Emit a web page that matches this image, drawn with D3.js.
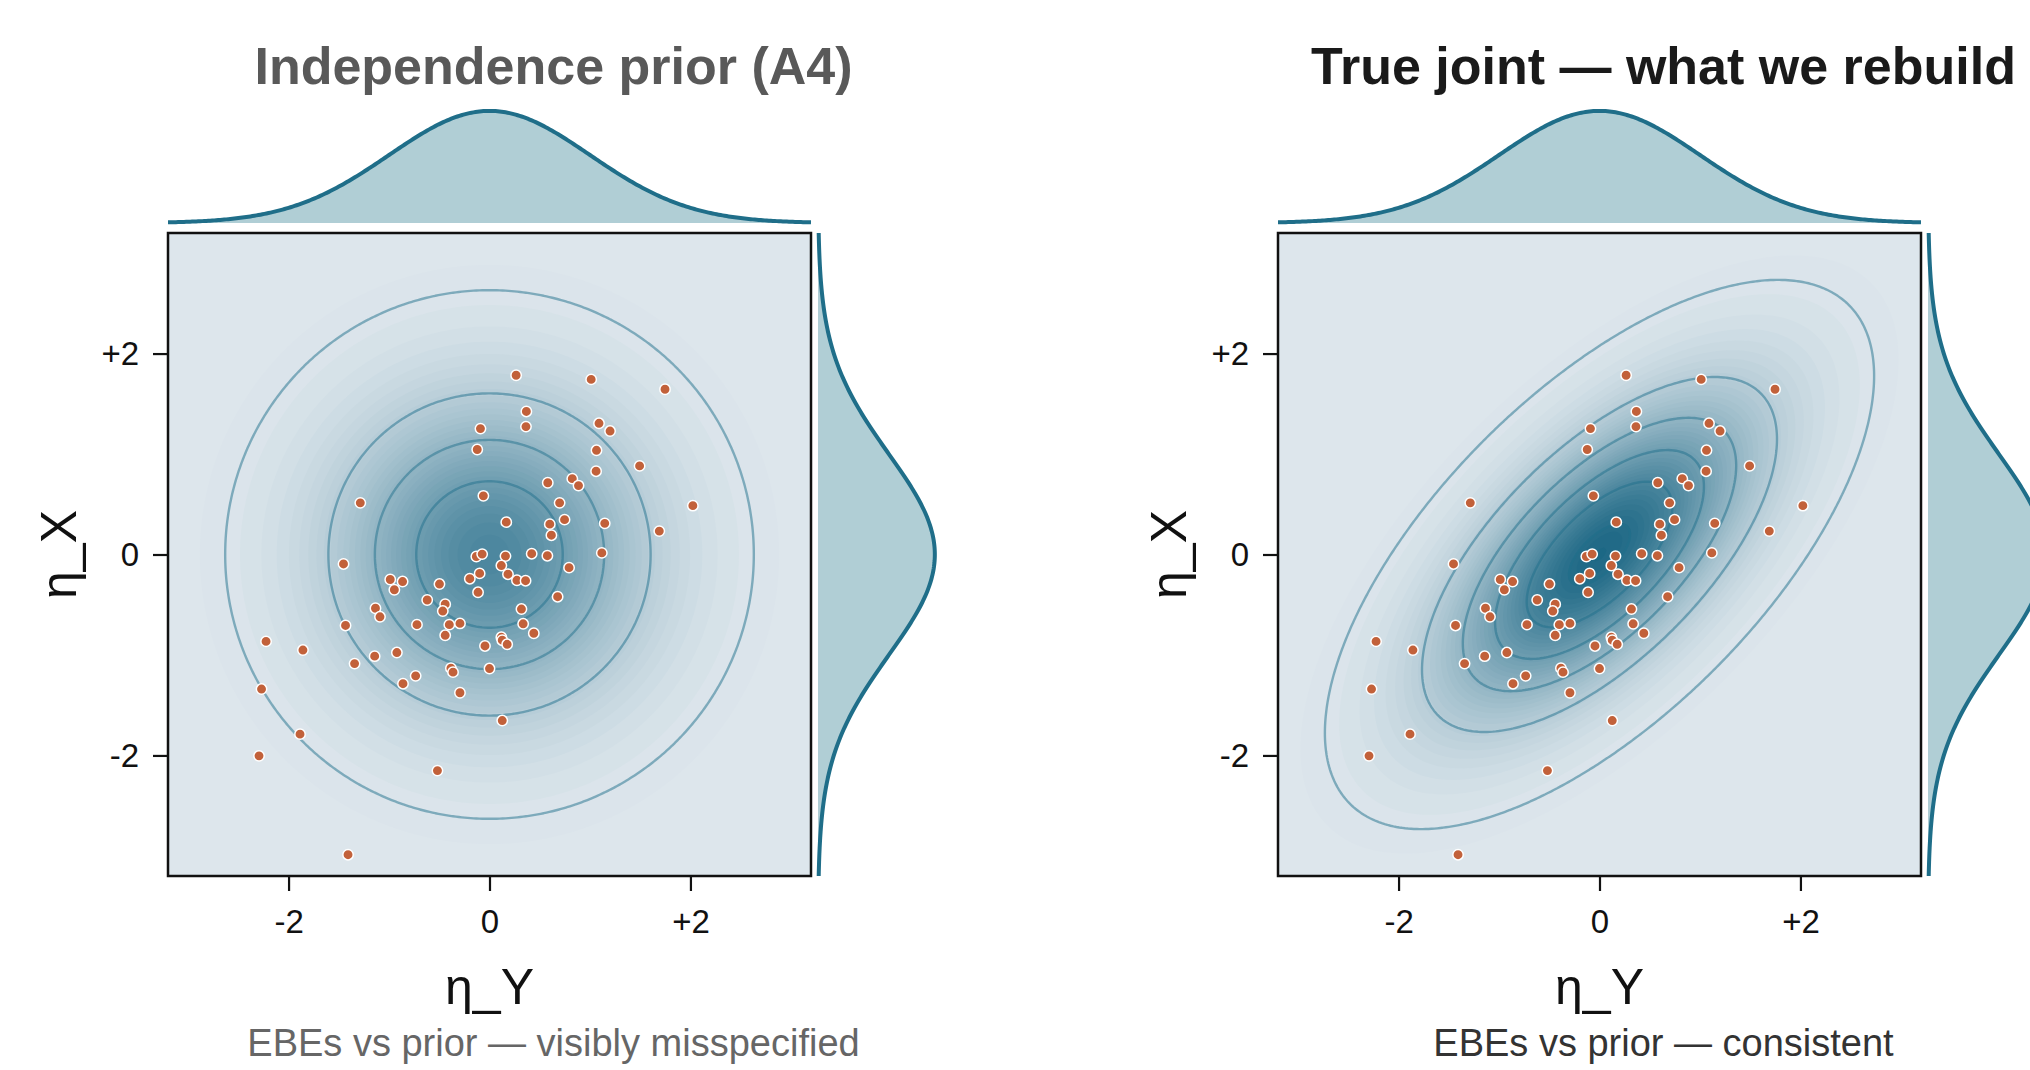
<!DOCTYPE html>
<html>
<head>
<meta charset="utf-8">
<script src="https://cdn.jsdelivr.net/npm/d3@7"></script>
<style>
  html, body { margin: 0; padding: 0; background: #fff; }
  svg { display: block; font-family: "Liberation Sans", Arial, Helvetica, sans-serif; }
</style>
</head>
<body>
<svg id="chart" width="2030" height="1070"></svg>
<script>
// EBEs: eta_Y (horizontal) and eta_X (vertical)
var etaY = [0.265, 1.012, 1.747, 0.367, 0.363, -0.090, 1.090, 1.200, -0.122, 1.065,
  1.494, 1.061, 0.580, 0.824, 0.886, -0.061, -1.286, 0.698, 2.024, 0.747,
  0.167, 0.600, 1.147, 1.690, 0.616, -0.131, -0.073, 0.159, 0.420, 0.576,
  1.118, -1.453, 0.118, 0.184, -0.098, -0.196, 0.273, 0.359, 0.792, -0.988,
  -0.865, -0.947, -0.498, -0.114, 0.678, -0.620, -0.441, -0.465, -1.135, -1.090,
  0.318, -1.433, -0.722, -0.400, -0.294, 0.335, 0.441, -0.441, -2.224, -1.857,
  0.118, 0.127, 0.176, -0.045, -0.922, -1.143, -1.343, -0.384, -0.363, 0.000,
  -0.735, -0.861, -0.294, -2.269, 0.127, -1.886, -2.294, -0.518, -1.408];
var etaX = [1.784, 1.743, 1.645, 1.424, 1.273, 1.253, 1.306, 1.229, 1.045, 1.037,
  0.882, 0.829, 0.714, 0.755, 0.686, 0.584, 0.514, 0.514, 0.486, 0.347,
  0.322, 0.302, 0.310, 0.233, 0.192, -0.020, 0.004, -0.016, 0.008, -0.012,
  0.016, -0.094, -0.110, -0.196, -0.188, -0.241, -0.257, -0.261, -0.131, -0.249,
  -0.269, -0.351, -0.294, -0.376, -0.420, -0.453, -0.494, -0.563, -0.535, -0.620,
  -0.543, -0.706, -0.698, -0.698, -0.686, -0.690, -0.784, -0.804, -0.865, -0.951,
  -0.824, -0.853, -0.894, -0.910, -0.976, -1.012, -1.086, -1.131, -1.171, -1.135,
  -1.208, -1.286, -1.376, -1.339, -1.653, -1.788, -2.004, -2.151, -2.988];

var panelTitles = ["Independence prior (A4)", "True joint \u2014 what we rebuild"];
var panelNotes = ["EBEs vs prior \u2014 visibly misspecified", "EBEs vs prior \u2014 consistent"];
var titleColors = ["#595959", "#1a1a1a"];
var noteColors = ["#666666", "#333333"];
var panelRho = [0, 0.65];          // correlation of the drawn prior
var marginalSd = [1, 1];
var contourLevels = [0.005, 0.044, 0.083, 0.122, 0.161, 0.200];
var tickValues = [-2, 0, 2];
var tickLabels = ["-2", "0", "+2"];

var svg = d3.select('#chart');
var size = 643, frameTop = 233, lim = 3.2, n = 220;
var panelLeft = [168, 1278];

var shade = d3.scaleLinear().domain([0, 0.218]).range(["#dde6ec", "#146280"]).clamp(true);
var fillLevels = d3.range(0.0025, 0.23, 0.0048);

function bvn(x, y, rho) {
  var q = 1 - rho * rho;
  return Math.exp(-(x * x - 2 * rho * x * y + y * y) / (2 * q)) / (2 * Math.PI * Math.sqrt(q));
}
function npdf(v, sd) {
  return Math.exp(-v * v / (2 * sd * sd)) / (sd * Math.sqrt(2 * Math.PI));
}

panelLeft.forEach(function (x0, k) {
  var x = d3.scaleLinear().domain([-lim, lim]).range([x0, x0 + size]);
  var y = d3.scaleLinear().domain([-lim, lim]).range([frameTop + size, frameTop]);

  var g = svg.append('g');
  g.append('clipPath').attr('id', 'clip' + k).append('rect')
    .attr('x', x0).attr('y', frameTop).attr('width', size).attr('height', size);

  var plot = g.append('g').attr('clip-path', 'url(#clip' + k + ')');
  plot.append('rect').attr('x', x0).attr('y', frameTop).attr('width', size).attr('height', size)
    .attr('fill', '#dde6ec');

  // density grid for the prior
  var vals = new Array(n * n);
  for (var j = 0; j < n; j++) {
    for (var i = 0; i < n; i++) {
      var gx = -lim + (i + 0.5) * 2 * lim / n;
      var gy = lim - (j + 0.5) * 2 * lim / n;
      vals[j * n + i] = bvn(gx, gy, panelRho[k]);
    }
  }
  var path = d3.geoPath(d3.geoIdentity().scale(size / n).translate([x0, frameTop]));

  plot.append('g').selectAll('path')
    .data(d3.contours().size([n, n]).thresholds(fillLevels)(vals))
    .enter().append('path')
    .attr('d', path)
    .attr('fill', function (d) { return shade(d.value); });

  plot.append('g').selectAll('path')
    .data(d3.contours().size([n, n]).thresholds(contourLevels)(vals))
    .enter().append('path')
    .attr('d', path)
    .attr('fill', 'none')
    .attr('stroke', '#1f6f8b')
    .attr('stroke-opacity', 0.5)
    .attr('stroke-width', 2.4);

  plot.append('g').selectAll('circle')
    .data(etaY.map(function (v, i) { return [v, etaX[i]]; }))
    .enter().append('circle')
    .attr('cx', function (d) { return x(d[0]); })
    .attr('cy', function (d) { return y(d[1]); })
    .attr('r', 5.2)
    .attr('fill', '#c2613a')
    .attr('stroke', '#ffffff')
    .attr('stroke-width', 1.5);

  g.append('rect').attr('x', x0).attr('y', frameTop).attr('width', size).attr('height', size)
    .attr('fill', 'none').attr('stroke', '#111').attr('stroke-width', 2.5);

  // axes
  var fmt = function (d) { return tickLabels[tickValues.indexOf(d)]; };
  var ax = g.append('g').attr('transform', 'translate(0,' + (frameTop + size) + ')')
    .call(d3.axisBottom(x).tickValues(tickValues).tickFormat(fmt).tickSize(15).tickPadding(19));
  var ay = g.append('g').attr('transform', 'translate(' + x0 + ',0)')
    .call(d3.axisLeft(y).tickValues(tickValues).tickFormat(fmt).tickSize(15).tickPadding(14));
  [ax, ay].forEach(function (a) {
    a.select('.domain').remove();
    a.selectAll('line').attr('stroke', '#111').attr('stroke-width', 2.2);
    a.selectAll('text').attr('font-size', 33).attr('fill', '#111').attr('font-family', null);
  });

  // marginals
  var grid = d3.range(-lim, lim + 0.001, 0.02);
  var my = d3.scaleLinear().domain([0, 0.42]).range([frameTop - 10, frameTop - 128]);
  var topArea = d3.area().x(function (v) { return x(v); }).y0(frameTop - 10)
    .y1(function (v) { return my(npdf(v, marginalSd[k])); });
  g.append('path').datum(grid).attr('d', topArea).attr('fill', '#b0ced5');
  g.append('path').datum(grid).attr('d', topArea.lineY1()).attr('fill', 'none')
    .attr('stroke', '#1f6e89').attr('stroke-width', 4);

  var mx = d3.scaleLinear().domain([0, 0.42]).range([x0 + size + 7, x0 + size + 130]);
  var sideArea = d3.area().y(function (v) { return y(v); }).x0(x0 + size + 7)
    .x1(function (v) { return mx(npdf(v, marginalSd[k])); });
  g.append('path').datum(grid).attr('d', sideArea).attr('fill', '#b0ced5');
  g.append('path').datum(grid).attr('d', sideArea.lineX1()).attr('fill', 'none')
    .attr('stroke', '#1f6e89').attr('stroke-width', 4);

  // texts
  var cx = x0 + size / 2;
  g.append('text').attr('x', cx + 64).attr('y', 84).attr('text-anchor', 'middle')
    .attr('font-size', 52).attr('font-weight', 'bold').attr('fill', titleColors[k])
    .text(panelTitles[k]);
  g.append('text').attr('x', cx).attr('y', 1004).attr('text-anchor', 'middle')
    .attr('font-size', 50).attr('fill', '#111').text('\u03b7_Y');
  g.append('text').attr('transform', 'translate(' + (x0 - 92) + ',' + (frameTop + size / 2) + ') rotate(-90)')
    .attr('text-anchor', 'middle').attr('font-size', 50).attr('fill', '#111').text('\u03b7_X');
  g.append('text').attr('x', cx + 64).attr('y', 1056).attr('text-anchor', 'middle')
    .attr('font-size', 38).attr('fill', noteColors[k]).text(panelNotes[k]);
});
</script>
</body>
</html>
